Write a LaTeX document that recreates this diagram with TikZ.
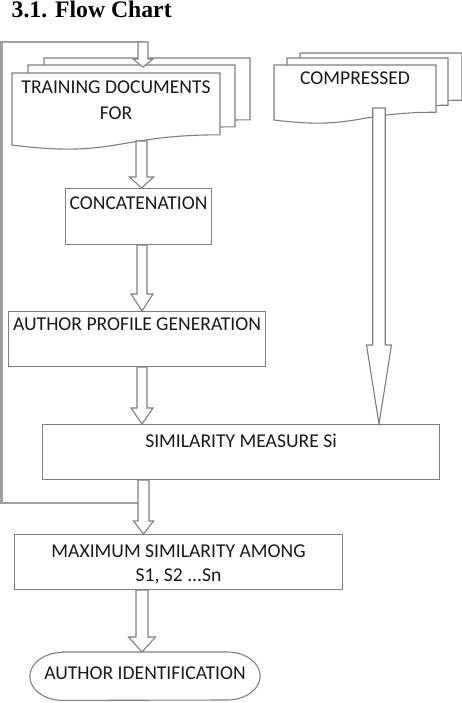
\documentclass[tikz,border=0pt]{standalone}
\usepackage{fontspec}
\setmainfont{Carlito}
\newfontfamily\titlefont{Liberation Serif}
\usetikzlibrary{calc}
\definecolor{linegray}{HTML}{7F7F7F}
\definecolor{loopgray}{HTML}{A0A0A0}
\definecolor{txt}{HTML}{1A1A1A}
\newcommand\docfont{\fontsize{19.6}{24}\selectfont}
\newcommand\docshape[4]{%
  \filldraw[docline] (#1,#2) -- (#1+#3,#2) -- (#1+#3,#2+0.802*#4)
    .. controls (#1+0.5*#3,#2+0.802*#4) and (#1+0.5*#3,#2+1.107*#4) .. (#1,#2+0.934*#4) -- cycle;}
\newcommand\hollowarrow[6]{%
  \filldraw[arrline] let \p1=(#2), \p2=(#3) in
   (#1pt-#4pt,\y1) -- (#1pt-#4pt,\y2+#6pt) -- (#1pt-#5pt,\y2+#6pt) -- (#1pt,\y2)
   -- (#1pt+#5pt,\y2+#6pt) -- (#1pt+#4pt,\y2+#6pt) -- (#1pt+#4pt,\y1) -- cycle;}
\begin{document}
\begin{tikzpicture}[x=1pt,y=-1pt,
  docline/.style={draw=linegray, fill=white, line width=1.1pt, line join=miter},
  arrline/.style={draw=linegray, fill=white, line width=1.1pt, line join=miter},
  loopline/.style={draw=loopgray, line width=2.8pt},
  box/.style={draw=linegray, fill=white, line width=1.1pt, inner sep=0pt, anchor=north west,
    font=\docfont, text=txt, align=center},
  lbl/.style={inner sep=0pt, font=\docfont, text=txt}]
\useasboundingbox (0,0) rectangle (461,703);

% title
\node[anchor=base west, inner sep=0pt, font=\titlefont\bfseries\fontsize{23.7}{28}\selectfont] (title) at (11.5,18) {3.1. Flow Chart};

% training documents stack
\docshape{44}{58}{206}{77.1}
\docshape{28}{65}{207}{77.1}
\docshape{12}{73}{208}{77.1}
\node[lbl, anchor=base] (train) at (116,120) {\vbox{\baselineskip=26pt
  \hbox{\makebox[0pt]{TRAINING DOCUMENTS}}\hbox{\makebox[0pt]{FOR}}}};

% compressed documents stack
\docshape{300}{53}{162}{58.9}
\docshape{287}{58}{161}{58.9}
\docshape{274}{65}{162}{58.9}
\node[lbl, anchor=base] (comp) at (355,85) {COMPRESSED};

% boxes
\node[box, minimum width=146pt, minimum height=56pt, text height=21pt, text depth=35pt]
  (concat) at (65,188) {CONCATENATION};
\node[box, minimum width=257pt, minimum height=55pt, text height=19pt, text depth=36pt]
  (apg) at (8,311) {AUTHOR PROFILE GENERATION};
\node[box, minimum width=397pt, minimum height=55pt, text height=23pt, text depth=32pt]
  (sim) at (42,424) {SIMILARITY MEASURE Si};
\node[box, minimum width=328pt, minimum height=55pt, text height=47pt, text depth=8pt]
  (max) at (14,534) {\vbox{\baselineskip=24pt
  \hbox{\makebox[0pt]{MAXIMUM SIMILARITY AMONG}}\hbox{\makebox[0pt]{S1, S2 ...Sn}}}};
\node[lbl, anchor=north, minimum width=230pt, minimum height=48pt, text height=27pt, text depth=21pt]
  (ai) at (145,652) {AUTHOR IDENTIFICATION};
\draw[draw=linegray, line width=1.1pt]
  ([xshift=33pt]ai.north west) -- ([xshift=-33pt]ai.north east)
  arc[start angle=90, end angle=-90, x radius=33pt, y radius=24pt]
  -- ([xshift=33pt]ai.south west)
  arc[start angle=270, end angle=90, x radius=33pt, y radius=24pt] -- cycle;

% feedback loop
\coordinate (fbstart) at (138,503);
\coordinate (fbcorner) at (1.5,42);
\coordinate (fbtop) at (143,42);
\coordinate (toptip) at (143,67);
\draw[loopline] (fbstart) -| (fbcorner) -- (fbtop);

% connector points
\coordinate (trainbot) at (141.5,141);
\coordinate (compbot) at (379,108);

% hollow arrows
\hollowarrow{143}{fbtop}{toptip}{5}{10}{8}
\hollowarrow{141.5}{trainbot}{concat.north}{5.5}{12}{11}
\hollowarrow{142}{concat.south}{apg.north}{5}{11}{17}
\hollowarrow{142}{apg.south}{sim.north}{5}{11}{16}
\hollowarrow{143.5}{sim.south}{max.north}{5.5}{10}{13}
\hollowarrow{142}{max.south}{ai.north}{6}{13.5}{15}
\hollowarrow{379}{compbot}{sim.north}{6.25}{12.5}{79}
\end{tikzpicture}
\end{document}
